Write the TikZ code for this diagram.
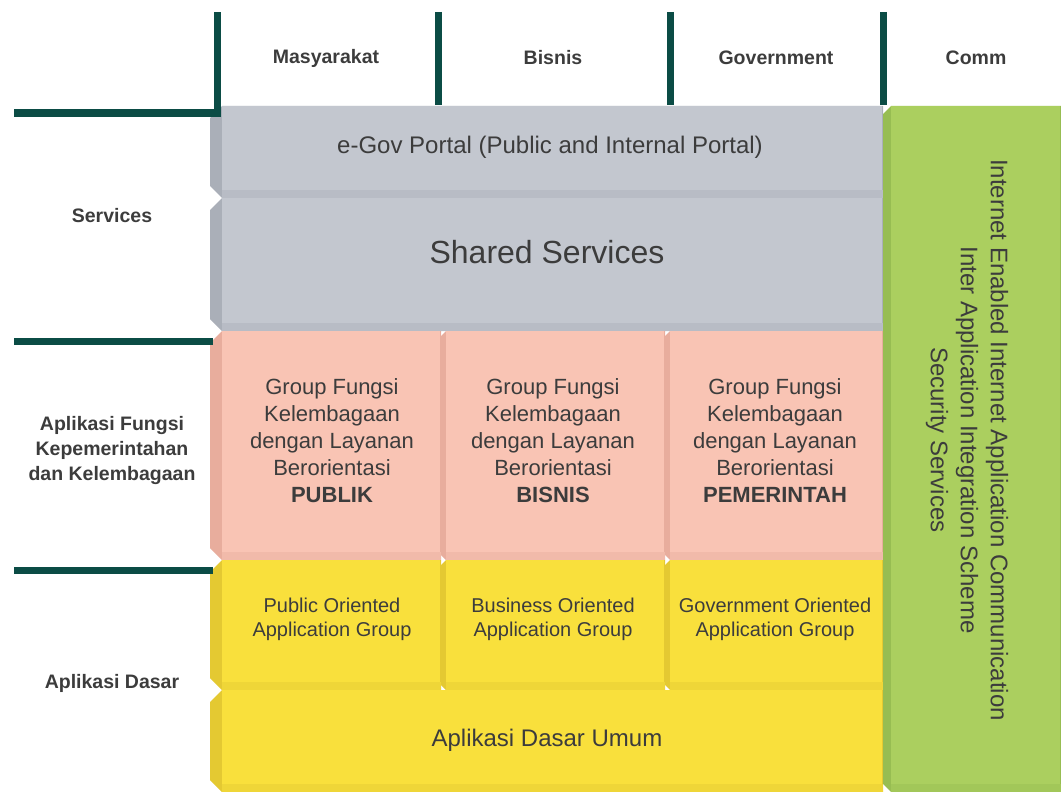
\documentclass[tikz,border=0pt]{standalone}
\usepackage{fontspec}
\setmainfont{Liberation Sans}
\definecolor{lineg}{HTML}{0B4C45}
\definecolor{txt}{HTML}{3C3C3C}
\definecolor{grayF}{HTML}{C3C7CF}
\definecolor{grayE}{HTML}{AAAFB8}
\definecolor{pinkF}{HTML}{F9C4B4}
\definecolor{pinkE}{HTML}{E8AD9D}
\definecolor{yelF}{HTML}{F9E03C}
\definecolor{yelE}{HTML}{E4C932}
\definecolor{grnF}{HTML}{ABCF5F}
\definecolor{grnE}{HTML}{97BD52}
% tile: x1 y1 x2 y2 face edge leftwidth
\newcommand\tile[7]{%
  \fill[#6] (#1+#7,#2) -- (#3,#2) -- (#3,#4) -- (#1+#7,#4) -- (#1,#4-#7) -- (#1,#2+#7) -- cycle;
  \fill[#5!55!#6] (#1+#7,#4-8) rectangle (#3,#4);
  \fill[#5] (#1+#7,#2) rectangle (#3-1,#4-8);
}
\begin{document}
\begin{tikzpicture}[x=1pt,y=-1pt,
  ln/.style={draw=lineg,line width=7pt},
  hdr/.style={text=txt,font=\fontsize{19.5}{25}\selectfont\bfseries,align=center,inner sep=0pt},
  big/.style={text=txt,font=\fontsize{24}{30}\selectfont,align=center,inner sep=0pt},
  grp/.style={text=txt,font=\fontsize{22}{27}\selectfont,align=center,inner sep=0pt},
  app/.style={text=txt,font=\fontsize{20}{24}\selectfont,align=center,inner sep=0pt}]
\useasboundingbox (0,0) rectangle (1061,792);
% tiles
\tile{210}{106}{883}{198}{grayF}{grayE}{12}
\tile{210}{198}{883}{331}{grayF}{grayE}{12}
\tile{210}{331}{441}{560}{pinkF}{pinkE}{12}
\tile{441}{331}{665}{560}{pinkF}{pinkE}{5}
\tile{665}{331}{883}{560}{pinkF}{pinkE}{5}
\tile{210}{560}{441}{690}{yelF}{yelE}{12}
\tile{441}{560}{665}{690}{yelF}{yelE}{5}
\tile{665}{560}{883}{690}{yelF}{yelE}{5}
\tile{210}{690}{883}{792}{yelF}{yelE}{12}
\tile{883}{106}{1061}{792}{grnF}{grnE}{8}
% lines
\draw[ln] (14,113) -- (217,113) -- (217,12);
\draw[ln] (438,12) -- (438,105);
\draw[ln] (670,12) -- (670,105);
\draw[ln] (883,12) -- (883,105);
\draw[ln] (14,341) -- (213,341);
\draw[ln] (14,570) -- (213,570);
% headers
\node[hdr] (hm) at (326,58) {Masyarakat};
\node[hdr] (hb) at (553,58) {Bisnis};
\node[hdr] (hg) at (776,58) {Government};
\node[hdr] (hc) at (976,58) {Comm};
\node[hdr] (ls) at (112,216) {Services};
\node[hdr] (la) at (112,450) {Aplikasi Fungsi\\Kepemerintahan\\dan Kelembagaan};
\node[hdr] (ld) at (112,683) {Aplikasi Dasar};
% tile texts
\node[big] (egov) at (550,147) {e-Gov Portal (Public and Internal Portal)};
\node[text=txt,font=\fontsize{32}{38}\selectfont,inner sep=0pt] (shs) at (547,252) {Shared Services};
\node[grp] (g1) at (332,441) {Group Fungsi\\Kelembagaan\\dengan Layanan\\Berorientasi\\\textbf{PUBLIK}};
\node[grp] (g2) at (553,441) {Group Fungsi\\Kelembagaan\\dengan Layanan\\Berorientasi\\\textbf{BISNIS}};
\node[grp] (g3) at (775,441) {Group Fungsi\\Kelembagaan\\dengan Layanan\\Berorientasi\\\textbf{PEMERINTAH}};
\node[app] (a1) at (332,619) {Public Oriented\\Application Group};
\node[app] (a2) at (553,619) {Business Oriented\\Application Group};
\node[app] (a3) at (775,619) {Government Oriented\\Application Group};
\node[big] (adu) at (547,740) {Aplikasi Dasar Umum};
\node[big,rotate=-90] (comm) at (967,440) {Internet Enabled Internet Application Communication\\Inter Application Integration Scheme\\Security Services};
\end{tikzpicture}
\end{document}
